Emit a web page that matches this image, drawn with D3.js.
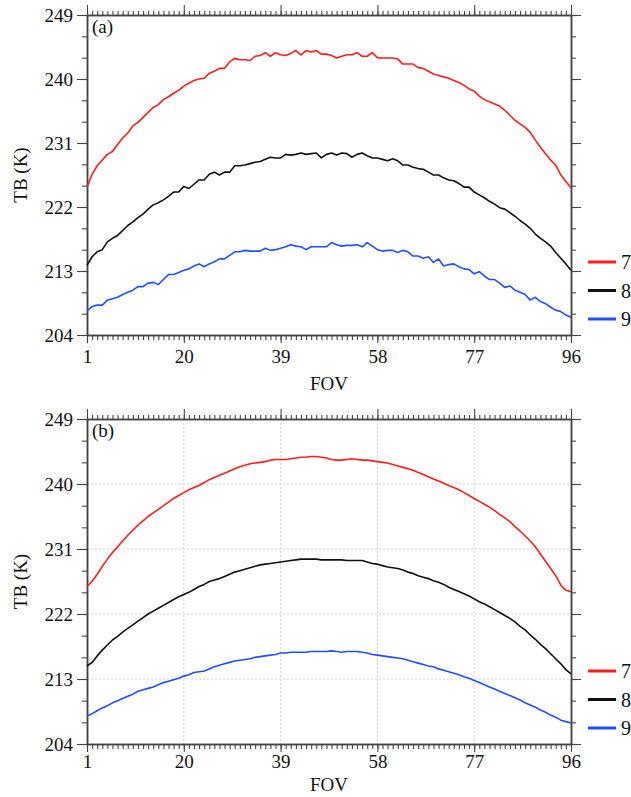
<!DOCTYPE html>
<html>
<head>
<meta charset="utf-8">
<script src="https://cdn.jsdelivr.net/npm/d3@7"></script>
<style>
  body { margin: 0; background: #fff; }
  text { font-family: "Liberation Serif", "Times New Roman", serif; fill: #111; }
</style>
</head>
<body>
<div id="chart"></div>
<script>
var width = 631,
    height = 797;

// FOV index 1..96
var fov = d3.range(1, 97);

var xTicks = [1, 20, 39, 58, 77, 96];
var yTicks = [204, 213, 222, 231, 240, 249];
var yMinor = d3.range(204, 250, 3);
var channels = ["7", "8", "9"];
var colors = ["#ff1c1c", "#111111", "#1f4fff"];

// panel (a) - raw
var ch7a = [224.8,226.6,227.8,228.6,229.4,229.8,230.8,231.7,232.4,233.4,233.9,234.6,235.3,236.0,236.4,237.1,237.5,238.0,238.4,239.0,
  239.4,239.8,240.0,240.1,240.8,241.1,241.5,241.5,242.4,242.9,242.7,242.7,242.6,243.2,243.3,243.7,243.2,243.7,243.4,243.3,
  243.6,244.0,243.4,244.0,243.8,244.0,243.5,243.5,243.3,242.95,243.2,243.4,243.4,243.7,243.2,243.2,243.7,243.0,242.95,242.95,
  242.95,242.8,242.1,242.1,242.1,241.6,241.5,241.1,240.7,240.5,240.3,240.1,239.8,239.5,239.1,238.6,238.3,237.6,237.1,236.8,
  236.5,236.2,235.6,234.9,234.2,233.7,233.2,232.5,231.4,230.4,229.5,228.6,227.9,226.5,225.6,224.7];
var ch8a = [213.8,215.0,215.7,216.0,217.1,217.6,218.0,218.7,219.4,219.9,220.5,221.0,221.7,222.3,222.6,223.0,223.5,224.1,224.1,224.9,
  224.6,225.2,225.8,225.8,226.6,226.9,226.5,226.9,226.9,227.8,227.8,227.9,228.1,228.3,228.4,228.7,229.0,228.9,228.9,229.4,
  229.3,229.4,229.6,229.4,229.5,229.6,228.9,229.4,229.6,229.3,229.6,229.5,229.0,229.4,229.6,229.2,228.9,228.9,228.7,228.5,
  228.8,228.5,227.9,227.9,227.6,227.4,227.3,226.9,226.5,226.5,226.1,225.8,225.7,225.3,224.8,224.8,224.1,223.7,223.3,222.8,
  222.4,221.9,221.7,221.2,220.7,220.1,219.6,219.0,218.2,217.6,217.1,216.5,215.6,214.8,214.0,213.1];
var ch9a = [207.4,208.0,208.2,208.2,208.9,209.1,209.3,209.7,210.0,210.3,210.8,210.8,211.3,211.4,211.1,211.8,212.5,212.5,212.8,213.1,
  213.3,213.7,214.0,213.6,214.0,214.3,214.7,214.7,215.2,215.7,215.7,215.9,215.8,215.8,215.8,216.2,215.9,216.0,216.2,216.4,
  216.7,216.5,216.4,216.0,216.4,216.4,216.4,216.4,217.0,216.7,216.5,216.6,216.6,216.7,216.4,217.0,216.5,216.0,215.8,215.9,
  215.9,215.6,215.9,215.7,215.1,215.1,214.8,215.0,214.2,214.7,213.7,213.9,214.0,213.6,213.3,213.2,212.6,212.9,212.3,211.8,
  211.8,211.3,210.7,210.9,210.3,210.0,209.7,208.9,209.3,208.7,208.4,207.9,207.5,207.3,206.8,206.5];

// panel (b) - smoothed
var ch7b = [225.8,226.5,227.5,228.6,229.6,230.5,231.3,232.1,232.9,233.6,234.3,234.9,235.5,236.0,236.5,237.0,237.5,238.0,238.4,238.8,
  239.2,239.5,239.8,240.2,240.6,240.9,241.2,241.5,241.8,242.1,242.4,242.6,242.8,242.9,243.0,243.1,243.3,243.4,243.4,243.4,
  243.5,243.6,243.7,243.7,243.8,243.8,243.7,243.6,243.4,243.3,243.3,243.4,243.5,243.4,243.3,243.3,243.2,243.1,243.0,242.9,
  242.7,242.5,242.3,242.1,241.9,241.6,241.3,241.0,240.7,240.4,240.1,239.8,239.5,239.2,238.8,238.4,238.0,237.6,237.2,236.8,
  236.3,235.8,235.3,234.8,234.1,233.5,232.8,232.1,231.3,230.3,229.3,228.3,227.3,226.0,225.3,225.1];
var ch8b = [214.8,215.3,216.2,217.0,217.7,218.4,218.9,219.5,220.0,220.5,221.0,221.5,222.0,222.4,222.8,223.2,223.6,224.0,224.4,224.7,
  225.0,225.4,225.8,226.1,226.5,226.7,226.9,227.2,227.5,227.8,228.0,228.2,228.4,228.6,228.8,228.9,229.0,229.1,229.2,229.3,
  229.4,229.5,229.6,229.6,229.6,229.6,229.5,229.5,229.5,229.5,229.5,229.4,229.4,229.4,229.4,229.2,229.0,228.9,228.7,228.5,
  228.4,228.3,228.1,227.8,227.6,227.3,227.1,226.9,226.6,226.4,226.1,225.7,225.4,225.1,224.8,224.5,224.1,223.7,223.4,223.0,
  222.6,222.2,221.8,221.4,220.9,220.3,219.8,219.1,218.5,217.8,217.2,216.5,215.8,215.1,214.3,213.7];
var ch9b = [207.9,208.2,208.6,209.0,209.3,209.7,210.0,210.3,210.6,210.9,211.3,211.5,211.7,211.9,212.2,212.5,212.7,212.9,213.1,213.4,
  213.6,213.9,214.0,214.1,214.4,214.7,214.9,215.1,215.3,215.5,215.6,215.7,215.8,216.0,216.1,216.2,216.3,216.4,216.6,216.6,
  216.7,216.7,216.7,216.7,216.8,216.8,216.8,216.8,216.9,216.8,216.7,216.8,216.8,216.8,216.7,216.6,216.4,216.3,216.2,216.1,
  216.0,215.9,215.8,215.6,215.4,215.2,215.0,214.8,214.7,214.4,214.2,214.0,213.8,213.6,213.3,213.1,212.8,212.5,212.2,211.9,
  211.6,211.3,211.0,210.7,210.4,210.1,209.7,209.4,209.1,208.7,208.4,208.0,207.7,207.3,207.1,206.9];

var svg = d3.select("#chart")
  .append("svg")
  .attr("width", width)
  .attr("height", height);

var left = 87, right = 571;

var x = d3.scaleLinear().domain([1, 96]).range([left, right]);

drawPanel(15, 335, "(a)", [ch7a, ch8a, ch9a], false, 7, 55);
drawPanel(419, 744, "(b)", [ch7b, ch8b, ch9b], true, 3, 47);

function styleAxis(sel) {
  sel.selectAll("path").attr("stroke", "#444").attr("stroke-width", 1.5);
  sel.selectAll("line").attr("stroke", "#444").attr("stroke-width", 1.1);
  sel.selectAll("text")
    .attr("font-family", "'Liberation Serif', 'Times New Roman', serif")
    .attr("font-size", "19px")
    .attr("fill", "#111");
}

function drawPanel(top, bottom, label, series, grid, tickPad, fovOffset) {
  var y = d3.scaleLinear().domain([204, 249]).range([bottom, top]);
  var g = svg.append("g");

  if (grid) {
    g.selectAll(".gx")
      .data(xTicks.slice(1, -1))
      .enter()
      .append("line")
      .attr("x1", function(d) { return x(d); })
      .attr("x2", function(d) { return x(d); })
      .attr("y1", top)
      .attr("y2", bottom)
      .attr("stroke", "#d0d0d0")
      .attr("stroke-dasharray", "2,2");
    g.selectAll(".gy")
      .data(yTicks.slice(1, -1))
      .enter()
      .append("line")
      .attr("x1", left)
      .attr("x2", right)
      .attr("y1", function(d) { return y(d); })
      .attr("y2", function(d) { return y(d); })
      .attr("stroke", "#d0d0d0")
      .attr("stroke-dasharray", "2,2");
  }

  // minor ticks
  g.append("g").attr("transform", "translate(0," + bottom + ")")
    .call(d3.axisBottom(x).tickValues(fov).tickSize(5).tickSizeOuter(0).tickFormat(""))
    .call(styleAxis);
  g.append("g").attr("transform", "translate(0," + top + ")")
    .call(d3.axisTop(x).tickValues(fov).tickSize(4).tickSizeOuter(0).tickFormat(""))
    .call(styleAxis);
  g.append("g").attr("transform", "translate(" + left + ",0)")
    .call(d3.axisLeft(y).tickValues(yMinor).tickSize(5).tickSizeOuter(0).tickFormat(""))
    .call(styleAxis);
  g.append("g").attr("transform", "translate(" + right + ",0)")
    .call(d3.axisRight(y).tickValues(yMinor).tickSize(5).tickSizeOuter(0).tickFormat(""))
    .call(styleAxis);

  // major ticks
  g.append("g").attr("transform", "translate(0," + bottom + ")")
    .call(d3.axisBottom(x).tickValues(xTicks).tickSize(8).tickPadding(tickPad).tickSizeOuter(0).tickFormat(d3.format("d")))
    .call(styleAxis);
  g.append("g").attr("transform", "translate(0," + top + ")")
    .call(d3.axisTop(x).tickValues(xTicks).tickSize(10).tickSizeOuter(0).tickFormat(""))
    .call(styleAxis);
  g.append("g").attr("transform", "translate(" + left + ",0)")
    .call(d3.axisLeft(y).tickValues(yTicks).tickSize(10).tickPadding(4).tickSizeOuter(0).tickFormat(d3.format("d")))
    .call(styleAxis);
  g.append("g").attr("transform", "translate(" + right + ",0)")
    .call(d3.axisRight(y).tickValues(yTicks).tickSize(10).tickSizeOuter(0).tickFormat(""))
    .call(styleAxis);

  var line = d3.line()
    .x(function(d, i) { return x(fov[i]); })
    .y(function(d) { return y(d); });

  g.selectAll(".series")
    .data(series)
    .enter()
    .append("path")
    .attr("d", line)
    .attr("fill", "none")
    .attr("stroke", function(d, i) { return colors[i]; })
    .attr("stroke-width", 1.6)
    .attr("stroke-linejoin", "round");

  g.append("text")
    .attr("x", left + 5)
    .attr("y", top + 18)
    .attr("font-size", "19px")
    .text(label);

  g.append("text")
    .attr("x", (left + right) / 2)
    .attr("y", bottom + fovOffset)
    .attr("text-anchor", "middle")
    .attr("font-size", "19px")
    .text("FOV");

  g.append("text")
    .attr("transform", "translate(27," + ((top + bottom) / 2) + ") rotate(-90)")
    .attr("text-anchor", "middle")
    .attr("font-size", "19px")
    .text("TB (K)");

  // legend
  var leg = g.selectAll(".leg")
    .data(channels)
    .enter()
    .append("g")
    .attr("transform", function(d, i) { return "translate(588," + (bottom - 73 + i * 28.5) + ")"; });
  leg.append("line")
    .attr("x1", 0)
    .attr("x2", 28)
    .attr("stroke", function(d, i) { return colors[i]; })
    .attr("stroke-width", 3);
  leg.append("text")
    .attr("x", 33)
    .attr("dy", "0.35em")
    .attr("font-size", "20px")
    .text(function(d) { return d; });
}
</script>
</body>
</html>
